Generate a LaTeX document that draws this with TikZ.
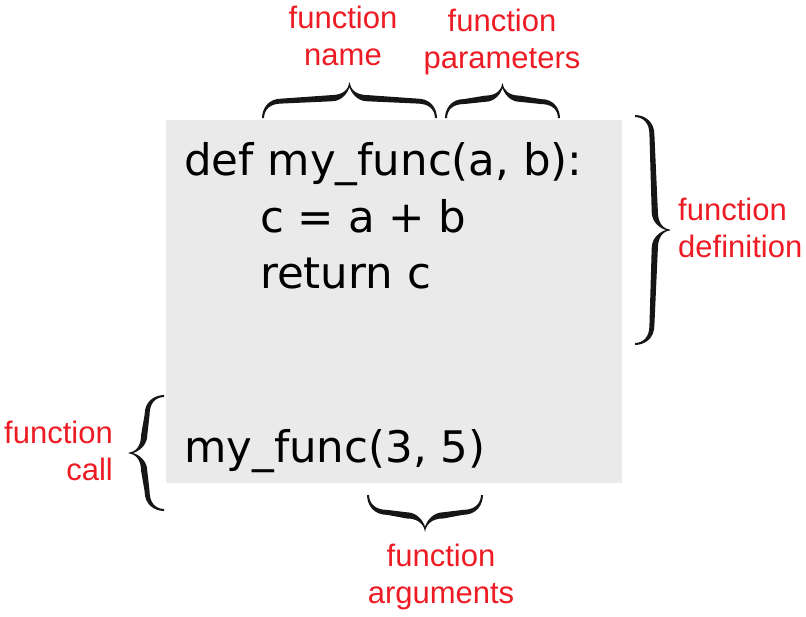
\documentclass[tikz,border=0pt]{standalone}
\usepackage{fontspec}
\newfontfamily\codefont{DejaVu Sans}
\newfontfamily\labfont{Liberation Sans}
\definecolor{boxgray}{RGB}{234,234,234}
\definecolor{labred}{RGB}{237,28,36}
\definecolor{bracecol}{RGB}{22,22,22}
\tikzset{
  codetext/.style={anchor=base west, inner sep=0pt, font=\codefont\fontsize{43.5}{52}\selectfont, text=black},
  labeltext/.style={inner sep=0pt, align=center, font=\labfont\fontsize{31}{36.5}\selectfont, text=labred},
}
% #1,#2 start point (px), #3 unit vector along, #4 unit vector towards tip, #5 length, #6 amplitude
\newcommand\cbrace[6]{%
\begin{scope}[shift={(#1,#2)}, x={#3}, y={#4}]
 \def\L{#5}\def\A{#6}\def\T{6.2}
 \pgfmathsetmacro\C{0.55*\A}\pgfmathsetmacro\D{0.5*\A}
 \pgfmathsetmacro\H{0.47*\A}\pgfmathsetmacro\HH{0.55*\A}
 \fill[bracecol]
  (0,0)
  .. controls ({0.2},{0.55*\H}) and ({0.3*\C},{\H+0.4*\T}) .. ({\C},{\H+0.4*\T})
  -- ({0.5*\L-\D},{\HH+0.5*\T})
  .. controls ({0.5*\L-0.35*\D},{\HH+0.5*\T}) and ({0.5*\L-0.05*\D},{0.8*\A}) .. ({0.5*\L},{\A})
  .. controls ({0.5*\L+0.05*\D},{0.8*\A}) and ({0.5*\L+0.35*\D},{\HH+0.5*\T}) .. ({0.5*\L+\D},{\HH+0.5*\T})
  -- ({\L-\C},{\H+0.4*\T})
  .. controls ({\L-0.3*\C},{\H+0.4*\T}) and ({\L-0.2},{0.55*\H}) .. ({\L},0)
  -- ({\L-2},0)
  .. controls ({\L-2-0.3},{0.5*\H}) and ({\L-0.4*\C},{\H-0.4*\T}) .. ({\L-\C},{\H-0.4*\T})
  -- ({0.5*\L+\D},{\HH-0.5*\T})
  .. controls ({0.5*\L+0.4*\D},{\HH-0.5*\T}) and ({0.5*\L+0.08*\D},{0.72*\A}) .. ({0.5*\L},{0.86*\A})
  .. controls ({0.5*\L-0.08*\D},{0.72*\A}) and ({0.5*\L-0.4*\D},{\HH-0.5*\T}) .. ({0.5*\L-\D},{\HH-0.5*\T})
  -- ({\C},{\H-0.4*\T})
  .. controls ({0.4*\C},{\H-0.4*\T}) and ({2.3},{0.5*\H}) .. (2,0)
  -- cycle;
\end{scope}}
\begin{document}
\begin{tikzpicture}[x=1pt,y=-1pt]
\useasboundingbox (0,0) rectangle (806,616);
\fill[boxgray] (166,120) rectangle (622,483);
% code
\node[codetext] (l1) at (184,175) {def my\_func(a, b):};
\node[codetext] (l2) at (260,232) {c = a + b};
\node[codetext] (l3) at (260,288) {return c};
\node[codetext] (l4) at (184,462) {my\_func(3, 5)};
% braces
\cbrace{262}{118}{(1pt,0pt)}{(0pt,1pt)}{175}{36}
\cbrace{445}{118}{(1pt,0pt)}{(0pt,1pt)}{115}{35}
\cbrace{635}{115}{(0pt,-1pt)}{(1pt,0pt)}{230}{36}
\cbrace{164}{395}{(0pt,-1pt)}{(-1pt,0pt)}{116}{36}
\cbrace{367}{495}{(1pt,0pt)}{(0pt,-1pt)}{116}{37}
% labels (anchor base = baseline of the last line)
\node[labeltext, anchor=base] (lname) at (343,65) {function\\name};
\node[labeltext, anchor=base] (lparam) at (502,68) {function\\parameters};
\node[labeltext, anchor=base west, align=left] (ldef) at (678,257) {function\\definition};
\node[labeltext, anchor=base east, align=right] (lcall) at (113,480) {function\\call};
\node[labeltext, anchor=base] (larg) at (441,603) {function\\arguments};
\end{tikzpicture}
\end{document}
